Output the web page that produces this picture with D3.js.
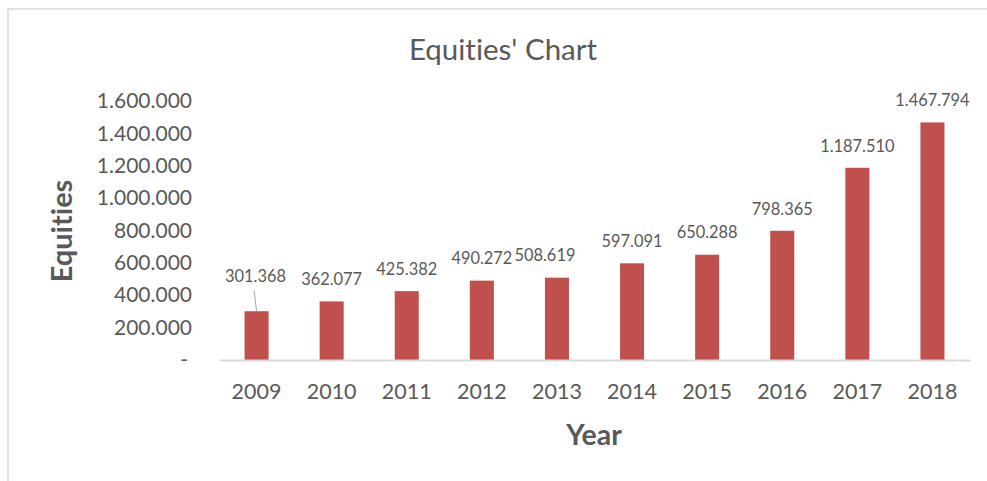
<!DOCTYPE html>
<html><head><meta charset="utf-8">
<script src="https://cdn.jsdelivr.net/npm/d3@7"></script>
<style>html,body{margin:0;padding:0;background:#fff;overflow:hidden} text{font-variant-ligatures:none}</style>
</head><body>
<script>
const years = ["2009","2010","2011","2012","2013","2014","2015","2016","2017","2018"];
const equities = [301368, 362077, 425382, 490272, 508619, 597091, 650288, 798365, 1187510, 1467794];
const yTicks = [0, 200000, 400000, 600000, 800000, 1000000, 1200000, 1400000, 1600000];
const title = "Equities' Chart";
const yTitle = "Equities";
const xTitle = "Year";

const W = 987, H = 481;
const font = "Lato, 'Open Sans', sans-serif";
const textColor = "#595959";
const barColor = "#C0504D";

const svg = d3.select("body").append("svg").attr("width", W).attr("height", H);
svg.append("rect").attr("x", 8).attr("y", 9).attr("width", 1000).attr("height", 500)
  .attr("fill", "#fff").attr("stroke", "#d9d9d9").attr("stroke-width", 1.5);

const x = d3.scaleBand().domain(years).range([219, 970]).paddingInner(0.68).paddingOuter(0.34);
const y = d3.scaleLinear().domain([0, 1600000]).range([360, 101]);

const fmt = v => v === 0 ? "-" : d3.format(",")(v).replace(/,/g, ".");

// y axis labels
const yAxis = d3.axisLeft(y).tickValues(yTicks).tickSize(0).tickPadding(0).tickFormat(fmt);
const gy = svg.append("g").attr("transform", "translate(192,0)").call(yAxis);
gy.select(".domain").remove();
gy.selectAll("text").attr("font-family", font).attr("font-size", 21).attr("fill", textColor)
  .attr("dx", d => d === 0 ? -4 : 0);

// bars
svg.append("g").selectAll("rect").data(equities).join("rect")
  .attr("x", (d, i) => x(years[i]))
  .attr("width", x.bandwidth())
  .attr("y", d => y(d))
  .attr("height", d => y(0) - y(d))
  .attr("fill", barColor);

// x axis
const xAxis = d3.axisBottom(x).tickSize(0).tickPadding(24);
const gx = svg.append("g").attr("transform", "translate(0,360)").call(xAxis);
gx.select(".domain").attr("stroke", "#d9d9d9").attr("stroke-width", 2);
gx.selectAll("text").attr("font-family", font).attr("font-size", 21.5).attr("fill", textColor);

// data labels
const labelShift = {"2009": {dx: -1, dy: -13}, "2013": {dx: -12, dy: 0}};
const labels = svg.append("g");
equities.forEach((v, i) => {
  const cx = x(years[i]) + x.bandwidth() / 2;
  const s = labelShift[years[i]] || {dx: 0, dy: 0};
  let ty = y(v) - 22 + s.dy;
  labels.append("text").attr("x", cx + s.dx).attr("y", ty).attr("dy", "0.35em")
    .attr("text-anchor", "middle").attr("font-family", font).attr("font-size", 16.4)
    .attr("fill", textColor).text(fmt(v));
  if (s.dy < -10) {
    labels.append("line").attr("x1", cx - 2.5).attr("y1", ty + 14).attr("x2", cx)
      .attr("y2", y(v)).attr("stroke", "#a6a6a6").attr("stroke-width", 1);
  }
});

// titles
svg.append("text").attr("x", 503).attr("y", 50).attr("dy", "0.35em").attr("text-anchor", "middle")
  .attr("font-family", font).attr("font-size", 29.5).attr("fill", textColor).text(title);
svg.append("text").attr("transform", "translate(62,231) rotate(-90)").attr("dy", "0.35em")
  .attr("text-anchor", "middle").attr("font-family", font).attr("font-size", 29)
  .attr("font-weight", "bold").attr("fill", textColor).text(yTitle);
svg.append("text").attr("x", 594).attr("y", 435).attr("dy", "0.35em").attr("text-anchor", "middle")
  .attr("font-family", font).attr("font-size", 28.5).attr("font-weight", "bold")
  .attr("fill", textColor).text(xTitle);
</script>
</body></html>
